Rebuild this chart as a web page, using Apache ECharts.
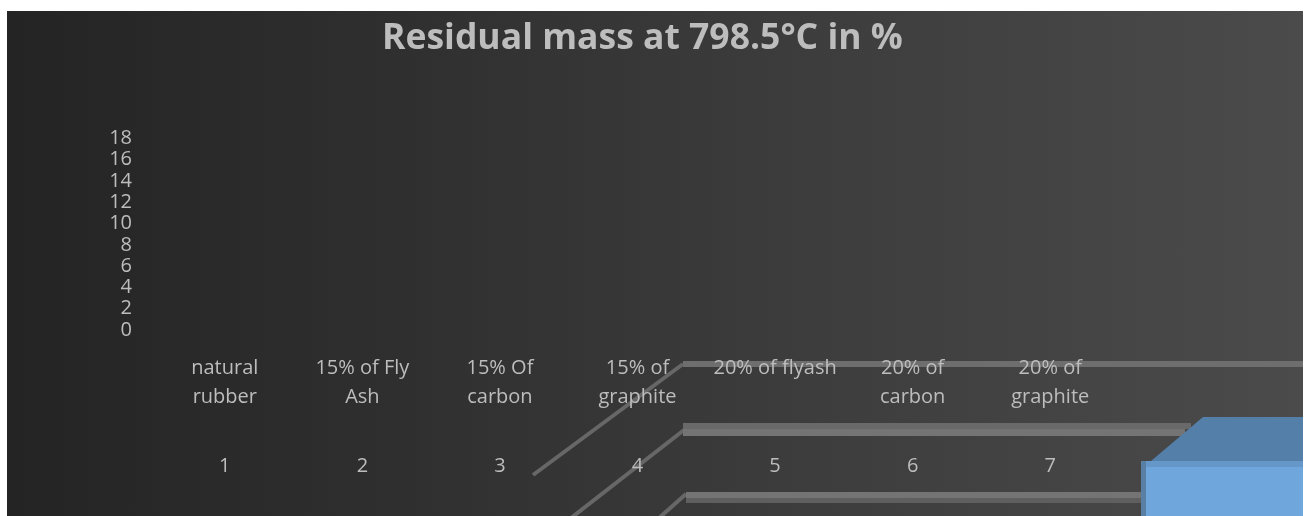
<!DOCTYPE html>
<html>
<head>
<meta charset="utf-8">
<script src="https://cdn.jsdelivr.net/npm/echarts@6/dist/echarts.min.js"></script>
<style>
  html, body { margin: 0; padding: 0; background: #ffffff; }
  #bg { position: absolute; left: 7px; top: 11px; width: 1296px; height: 505px;
        background: linear-gradient(90deg, #242424 0%, #2f2f2f 30%, #3c3c3c 60%, #4b4b4b 100%); }
  #chart { position: absolute; left: 0; top: 0; width: 1308px; height: 516px; }
</style>
</head>
<body>
<div id="bg"></div>
<div id="chart"></div>
<script>
// Data
const titleText = 'Residual mass at 798.5°C in %';
const categories = ['natural\nrubber', '15% of Fly\nAsh', '15% Of\ncarbon', '15% of\ngraphite', '20% of flyash', '20% of\ncarbon', '20% of\ngraphite'];
const sampleNumbers = ['1', '2', '3', '4', '5', '6', '7'];
// no bars are visible in the plot area of the reference
const residualMass = [null, null, null, null, null, null, null];
const yMin = 0;
const yMax = 18;
const yInterval = 2;

const textColor = '#bdbdbd';
const font = 'Open Sans';

const chart = echarts.init(document.getElementById('chart'), null, { renderer: 'canvas' });
chart.setOption({
  backgroundColor: 'transparent',
  animation: false,
  title: {
    text: titleText,
    left: 377,
    top: 16,
    textStyle: { color: textColor, fontFamily: font, fontWeight: 'bold', fontSize: 35.5 }
  },
  grid: { left: 156, right: 189, top: 138.5, bottom: 186, containLabel: false },
  xAxis: [
    {
      type: 'category',
      data: categories,
      position: 'bottom',
      axisLine: { show: false },
      axisTick: { show: false },
      splitLine: { show: false },
      axisLabel: { color: textColor, fontFamily: font, fontSize: 20, lineHeight: 29, margin: 24, interval: 0 }
    },
    {
      type: 'category',
      data: sampleNumbers,
      position: 'bottom',
      axisLine: { show: false },
      axisTick: { show: false },
      splitLine: { show: false },
      axisLabel: { color: textColor, fontFamily: font, fontSize: 20, lineHeight: 29, margin: 122, interval: 0 }
    }
  ],
  yAxis: {
    type: 'value',
    min: yMin,
    max: yMax,
    interval: yInterval,
    axisLine: { show: false },
    axisTick: { show: false },
    splitLine: { show: false },
    axisLabel: { color: textColor, fontFamily: font, fontSize: 20, margin: 24 }
  },
  series: [
    { type: 'bar', xAxisIndex: 0, data: residualMass, itemStyle: { color: '#6fa6dc' } }
  ],
  graphic: [
    // stray 3D floor edges and bar fragment (rendering artefacts of the original)
    { type: 'polyline', z: -5, shape: { points: [[533, 475], [683, 364]] }, style: { stroke: '#676767', lineWidth: 4, fill: null } },
    { type: 'rect', z: -5, shape: { x: 683, y: 361, width: 620, height: 6 }, style: { fill: '#6e6e6e' } },
    { type: 'polyline', z: -5, shape: { points: [[571, 518], [684, 430]] }, style: { stroke: '#676767', lineWidth: 4, fill: null } },
    { type: 'rect', z: -5, shape: { x: 683, y: 423, width: 508, height: 6 }, style: { fill: '#696969' } },
    { type: 'rect', z: -5, shape: { x: 683, y: 429, width: 502, height: 7 }, style: { fill: '#747474' } },
    { type: 'polyline', z: -5, shape: { points: [[659, 518], [686, 494]] }, style: { stroke: '#676767', lineWidth: 4, fill: null } },
    { type: 'rect', z: -5, shape: { x: 686, y: 492, width: 457, height: 6 }, style: { fill: '#747474' } },
    { type: 'rect', z: -5, shape: { x: 686, y: 498, width: 457, height: 5 }, style: { fill: '#5f5f5f' } },
    { type: 'polygon', z: -4, shape: { points: [[1203, 417], [1303, 417], [1303, 461], [1151, 461]] }, style: { fill: '#547fa9' } },
    { type: 'rect', z: -4, shape: { x: 1141, y: 461, width: 5, height: 55 }, style: { fill: '#5a7fa5' } },
    { type: 'rect', z: -4, shape: { x: 1146, y: 461, width: 157, height: 55 }, style: { fill: '#6fa6dc' } },
    { type: 'rect', z: -4, shape: { x: 1146, y: 461, width: 157, height: 6 }, style: { fill: '#6598c9' } }
  ]
});
</script>
</body>
</html>
